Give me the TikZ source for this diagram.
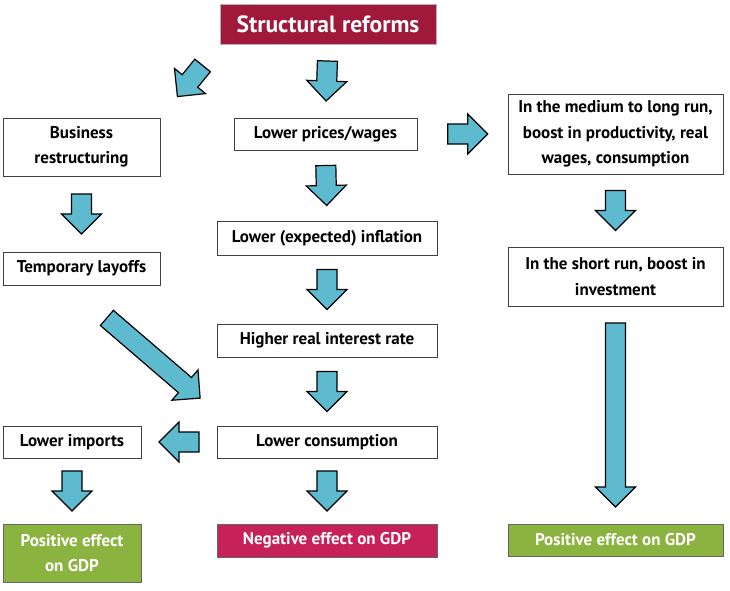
\documentclass[tikz,border=0pt]{standalone}
\usepackage{fontspec}
\setmainfont{PT Sans}
\usetikzlibrary{calc}

\definecolor{reformred}{HTML}{A0183A}
\definecolor{negred}{HTML}{C7215A}
\definecolor{posgreen}{HTML}{8AB43F}
\definecolor{arrowblue}{HTML}{5EBBCF}

% block arrow of length 2*#1, centred between #2 and #3
\newcommand{\blockarrow}[3][20pt]{%
  \path ($(#2)!0.5!(#3)$) coordinate (ba-m);
  \path ($(ba-m)!#1!(#2)$) coordinate (ba-s) ($(ba-m)!#1!(#3)$) coordinate (ba-t);
  \path ($(ba-t)!20pt!(ba-s)$) coordinate (ba-h);
  \filldraw[arrowshape] ($(ba-s)!10pt!90:(ba-t)$) -- ($(ba-h)!10pt!90:(ba-t)$)
    -- ($(ba-h)!20pt!90:(ba-t)$) -- (ba-t) -- ($(ba-h)!20pt!-90:(ba-t)$)
    -- ($(ba-h)!10pt!-90:(ba-t)$) -- ($(ba-s)!10pt!-90:(ba-t)$) -- cycle;
}

\begin{document}
\begin{tikzpicture}[x=1pt,y=-1pt,
  box/.style={draw=black!75,line width=0.8pt,fill=white,align=center,inner sep=0pt,
    font=\bfseries\fontsize{17}{25.5}\selectfont},
  effect/.style={box,text=white,draw=black!60},
  arrowshape/.style={fill=arrowblue,draw=black,line width=1.2pt,line join=miter}]
\useasboundingbox (0,0) rectangle (730,590);

\node[box,fill=reformred,draw=black!30,text=white,font=\bfseries\fontsize{23.5}{25}\selectfont,
  minimum width=216,minimum height=40] (reforms) at (328,24) {Structural reforms};

\node[box,minimum width=157,minimum height=58] (business) at (81.5,147) {Business\\restructuring};
\node[box,minimum width=183,minimum height=32] (prices) at (325.5,134) {Lower prices/wages};
\node[box,minimum width=215,minimum height=80] (longrun) at (615.5,134)
  {In the medium to long run,\\boost in productivity, real\\wages, consumption};

\node[box,minimum width=157,minimum height=33] (layoffs) at (81.5,268.5) {Temporary layoffs};
\node[box,minimum width=220,minimum height=34] (inflation) at (327,238) {Lower (expected) inflation};
\node[box,minimum width=215,minimum height=59] (shortrun) at (615.5,276.5)
  {In the short run, boost in\\investment};

\node[box,minimum width=220,minimum height=33] (interest) at (327,340.5) {Higher real interest rate};

\node[box,minimum width=138,minimum height=32] (imports) at (72,442) {Lower imports};
\node[box,minimum width=220,minimum height=32] (consumption) at (327,442) {Lower consumption};

\node[effect,fill=posgreen,minimum width=138,minimum height=58] (posleft) at (72,553) {Positive effect\\on GDP};
\node[effect,fill=negred,minimum width=220,minimum height=33] (negative) at (327,540.5) {Negative effect on GDP};
\node[effect,fill=posgreen,minimum width=215,minimum height=32] (posright) at (615.5,540) {Positive effect on GDP};

\coordinate (diagtail) at (107,318);
\coordinate (diagtip) at (200,398);
\coordinate (rightgap) at (428,134);

\blockarrow{reforms.south west}{business.north east}
\blockarrow{reforms.south}{prices.north}
\blockarrow{rightgap}{longrun.west}
\blockarrow{business.south}{layoffs.north}
\blockarrow{prices.south}{inflation.north}
\blockarrow{longrun.south}{shortrun.north}
\blockarrow{inflation.south}{interest.north}
\blockarrow[61.5pt]{diagtail}{diagtip}
\blockarrow{interest.south}{consumption.north}
\blockarrow{consumption.west}{imports.east}
\blockarrow{imports.south}{posleft.north}
\blockarrow{consumption.south}{negative.north}
\blockarrow[92pt]{shortrun.south}{posright.north}
\end{tikzpicture}
\end{document}
